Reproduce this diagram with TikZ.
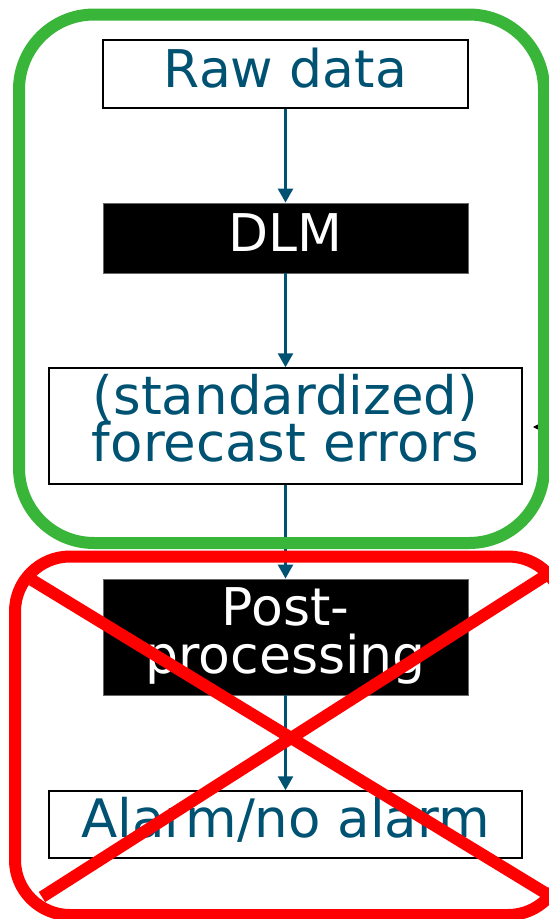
\documentclass[tikz,border=0pt]{standalone}
\usepackage{fontspec}
\setmainfont{DejaVu Sans}
\usetikzlibrary{arrows.meta}
\definecolor{txtblue}{RGB}{0,82,115}
\definecolor{frgreen}{RGB}{57,181,58}
\definecolor{frred}{RGB}{255,0,0}
\begin{document}
\begin{tikzpicture}[x=1pt,y=-1pt,
  wbox/.style={draw=black, line width=1.5pt, fill=white, inner sep=0pt, text=txtblue},
  bbox/.style={draw=black!60, line width=0.8pt, fill=black, inner sep=0pt, text=white},
  flow/.style={draw=txtblue, line width=2.5pt, -{Triangle[length=14pt,width=15pt]}},
  oneline/.style={text height=26pt, text depth=0pt},
  twoline/.style={text height=0pt, text depth=24pt},
  frame/.style={line width=12pt, rounded corners=#1},
]
\useasboundingbox (0,0) rectangle (549,919);
\clip (0,0) rectangle (549,919);

% nodes
\node[wbox, oneline, minimum width=365pt, minimum height=68pt,
  font=\fontsize{52}{47}\selectfont] (raw) at (285.5,74) {Raw data};
\node[bbox, oneline, minimum width=365pt, minimum height=70pt,
  font=\fontsize{52}{47}\selectfont] (dlm) at (285.5,238) {DLM};
\node[wbox, twoline, minimum width=473pt, minimum height=116pt,
  font=\fontsize{53}{47}\selectfont] (std) at (285.5,426)
  {\begin{tabular}[t]{@{}c@{}}\smash{(standardized)}\\\smash{forecast errors}\end{tabular}};
\node[bbox, twoline, minimum width=365pt, minimum height=116pt,
  font=\fontsize{52}{48}\selectfont] (post) at (285.5,637)
  {\begin{tabular}[t]{@{}c@{}}\smash{Post-}\\\smash{processing}\end{tabular}};
\node[wbox, text height=25pt, text depth=0pt, minimum width=473pt, minimum height=67pt,
  font=\fontsize{53}{47}\selectfont] (alarm) at (285.5,824.5) {Alarm/no alarm};

% connectors
\draw[flow] (raw.south) -- (dlm.north);
\draw[flow] (dlm.south) -- (std.north);
\draw[flow] (std.south) -- (post.north);
\draw[flow] (post.south) -- (alarm.north);

% small incoming arrow at the right
\coordinate (feedin) at (552,427);
\coordinate (feedend) at (533,427);
\draw[line width=0.8pt, -{Triangle[length=5pt,width=5pt]}] (feedin) -- (feedend);

% green frame
\draw[frgreen, frame=75pt] (19,14.5) rectangle (544,543);
% red frame
\draw[frred, frame=55pt] (15,556.5) rectangle (563,915);
% red cross
\draw[frred, line width=12pt] (32,580) -- (570,908);
\draw[frred, line width=12pt] (42,897) -- (570,560);
\end{tikzpicture}
\end{document}
